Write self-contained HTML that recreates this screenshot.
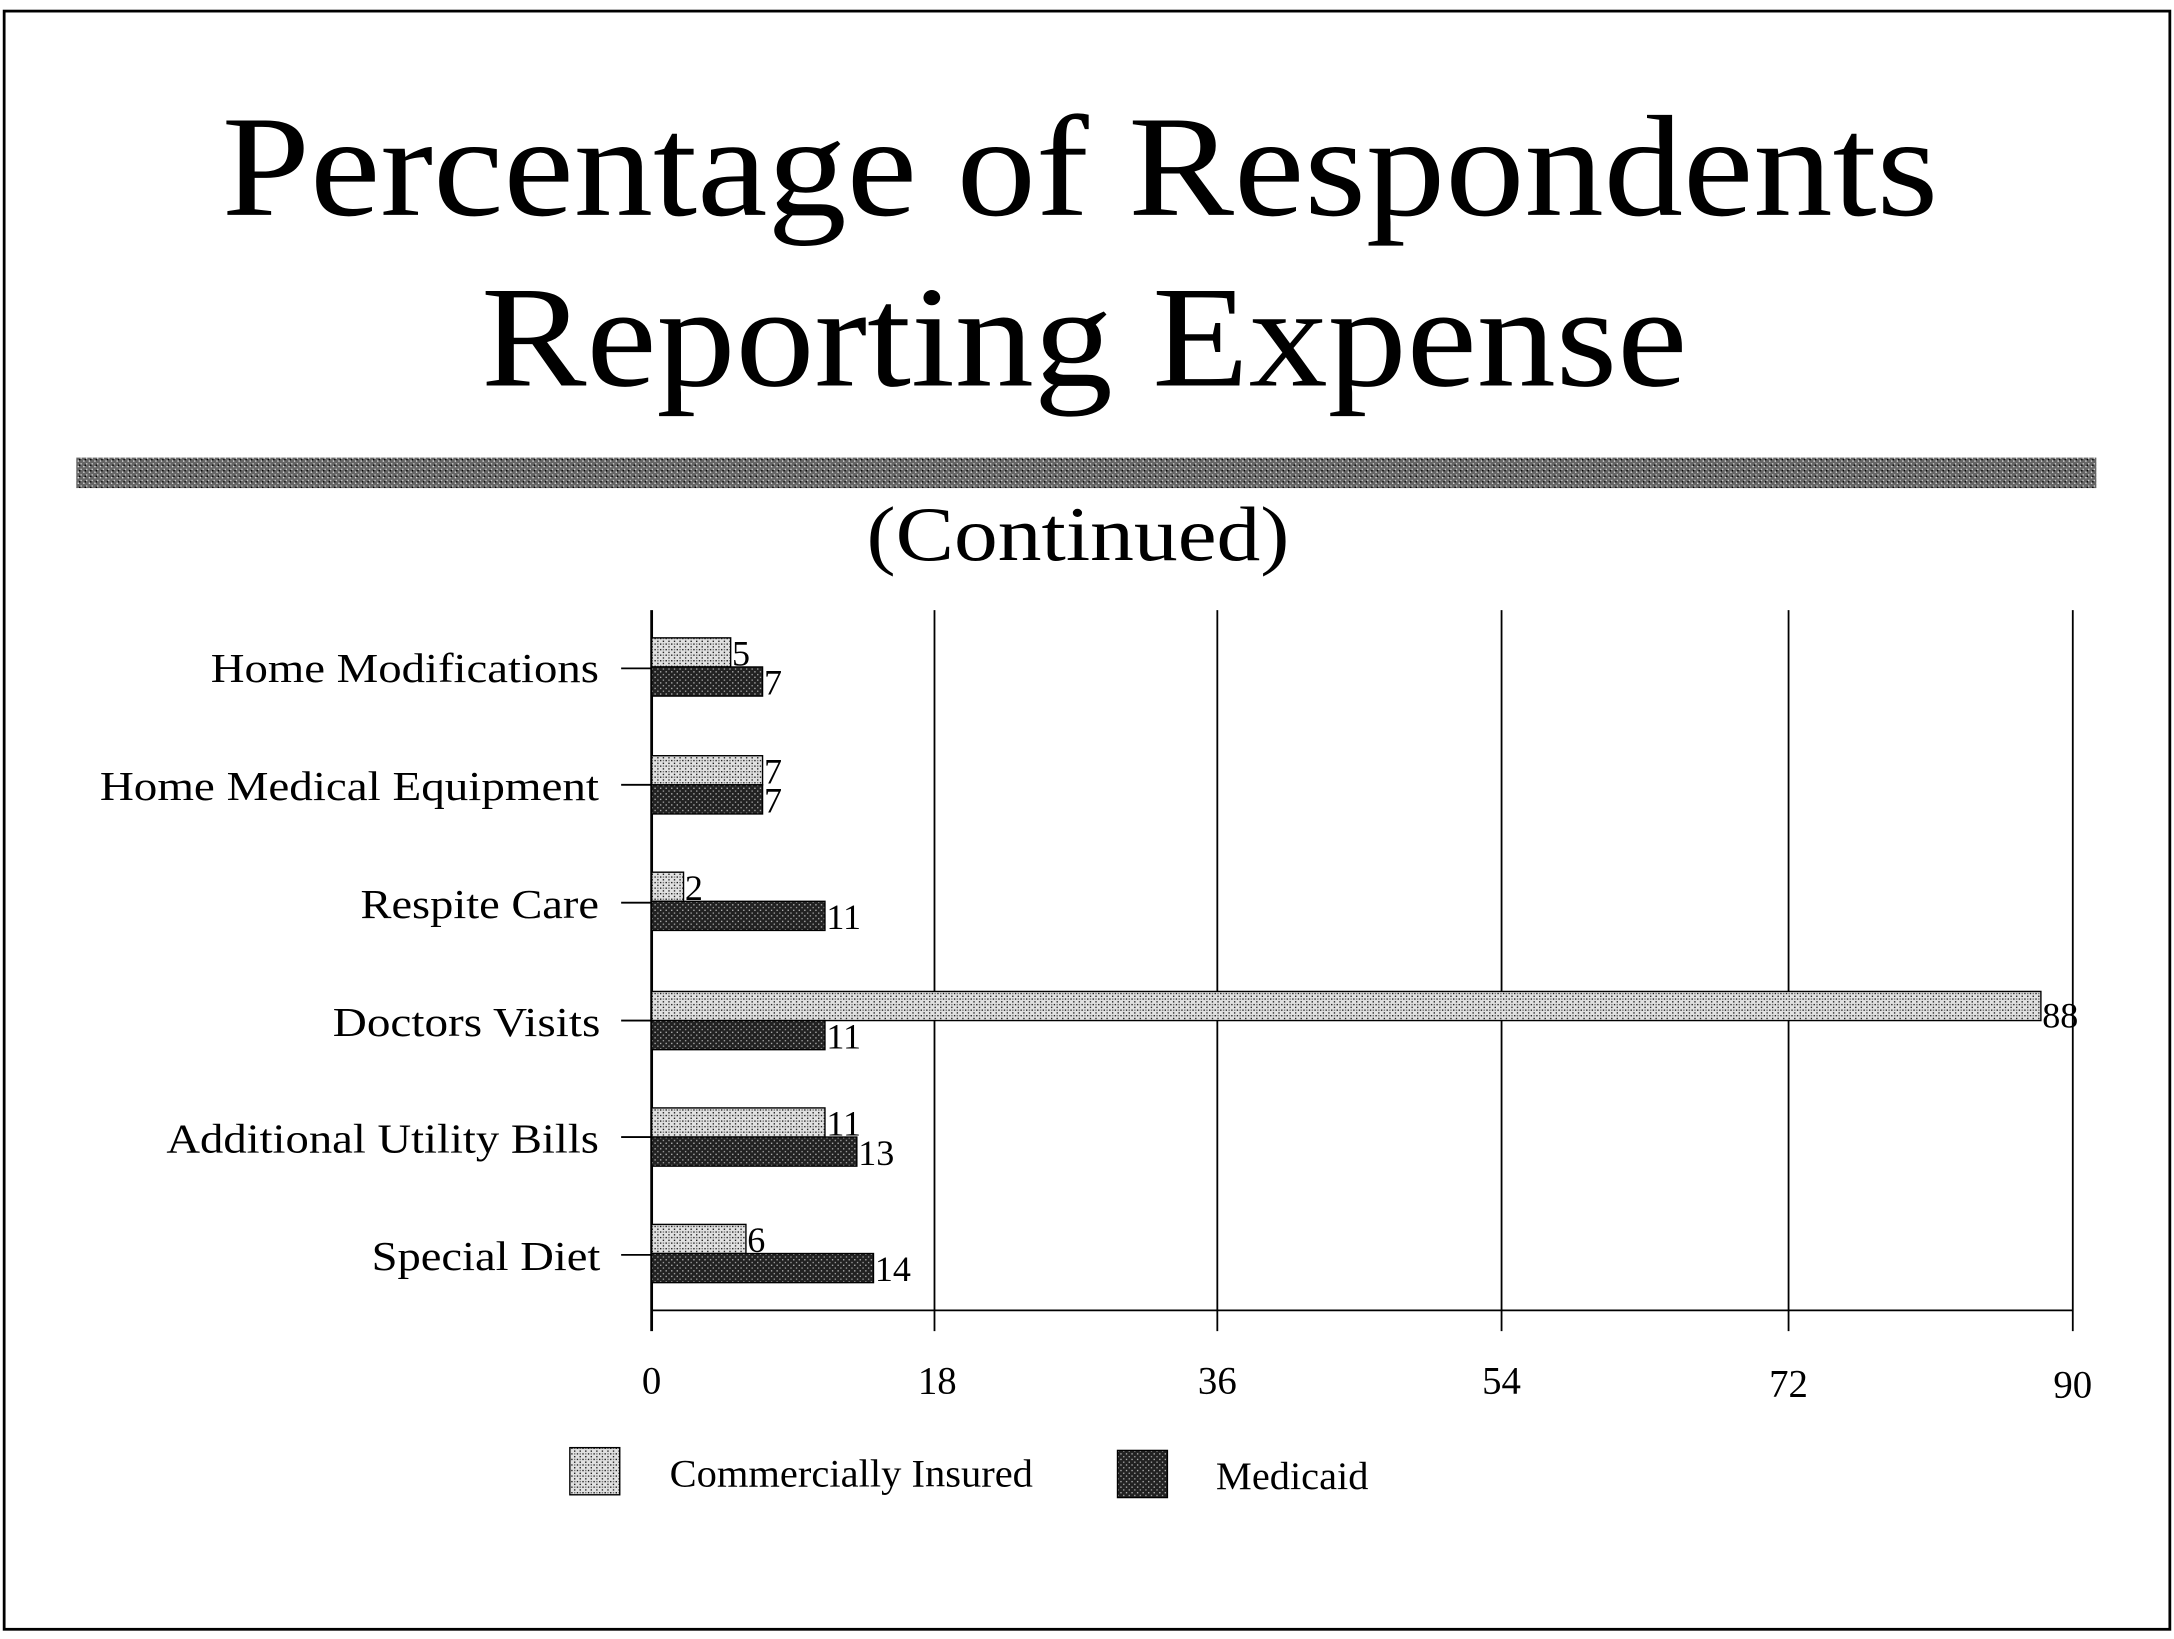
<!DOCTYPE html>
<html><head><style>
html,body{margin:0;padding:0;background:#fff;}
svg{display:block;}
text{font-family:"Liberation Serif",serif;fill:#000;}
</style></head><body>
<svg width="2174" height="1639" viewBox="0 0 1568 1182" preserveAspectRatio="none" xmlns="http://www.w3.org/2000/svg">
<defs>
<pattern id="lt" width="4" height="4" patternUnits="userSpaceOnUse">
<rect width="4" height="4" fill="#e0e0e0"/><rect width="1" height="1" fill="#222"/><rect x="2" y="2" width="1" height="1" fill="#222"/><rect x="2" y="0" width="1" height="1" fill="#777"/>
</pattern>
<pattern id="dk" width="4" height="4" patternUnits="userSpaceOnUse">
<rect width="4" height="4" fill="#222"/><rect width="1" height="1" fill="#aaa"/><rect x="2" y="2" width="1" height="1" fill="#999"/>
</pattern>
<pattern id="bar" width="4" height="4" patternUnits="userSpaceOnUse">
<rect width="4" height="4" fill="#666"/><rect width="1" height="1" fill="#ddd"/><rect x="2" y="2" width="1" height="1" fill="#ccc"/><rect x="1" y="3" width="1" height="1" fill="#000"/>
</pattern>
</defs>
<rect x="3" y="8" width="1562" height="1167" fill="none" stroke="#000" stroke-width="2"/>
<text x="160" y="155" font-size="104" textLength="1238" lengthAdjust="spacingAndGlyphs">Percentage of Respondents</text>
<text x="347" y="278" font-size="104" textLength="870" lengthAdjust="spacingAndGlyphs">Reporting Expense</text>
<rect x="55" y="330" width="1457" height="22" fill="url(#bar)"/>
<text x="625" y="404" font-size="56" textLength="305" lengthAdjust="spacingAndGlyphs">(Continued)</text>
<g stroke="#000" stroke-width="1.3">
<line x1="674" y1="440" x2="674" y2="960"/>
<line x1="878" y1="440" x2="878" y2="960"/>
<line x1="1083" y1="440" x2="1083" y2="960"/>
<line x1="1290" y1="440" x2="1290" y2="960"/>
<line x1="1495" y1="440" x2="1495" y2="960"/>
<line x1="470" y1="440" x2="470" y2="960" stroke-width="2"/>
<line x1="470" y1="945" x2="1495" y2="945"/>
<line x1="448" y1="482" x2="470" y2="482"/>
<line x1="448" y1="566" x2="470" y2="566"/>
<line x1="448" y1="651" x2="470" y2="651"/>
<line x1="448" y1="736" x2="470" y2="736"/>
<line x1="448" y1="820" x2="470" y2="820"/>
<line x1="448" y1="905" x2="470" y2="905"/>
</g>
<g font-size="30" lengthAdjust="spacingAndGlyphs">
<text x="152" y="492" textLength="280" lengthAdjust="spacingAndGlyphs">Home Modifications</text>
<text x="72" y="577" textLength="360" lengthAdjust="spacingAndGlyphs">Home Medical Equipment</text>
<text x="260" y="662" textLength="172" lengthAdjust="spacingAndGlyphs">Respite Care</text>
<text x="240" y="747" textLength="193" lengthAdjust="spacingAndGlyphs">Doctors Visits</text>
<text x="120" y="831" textLength="312" lengthAdjust="spacingAndGlyphs">Additional Utility Bills</text>
<text x="268" y="916" textLength="165" lengthAdjust="spacingAndGlyphs">Special Diet</text>
</g>
<g stroke="#000" stroke-width="1">
<rect x="470" y="460" width="57" height="21" fill="url(#lt)"/>
<rect x="470" y="481" width="80" height="21" fill="url(#dk)"/>
<rect x="470" y="545" width="80" height="21" fill="url(#lt)"/>
<rect x="470" y="566" width="80" height="21" fill="url(#dk)"/>
<rect x="470" y="629" width="23" height="21" fill="url(#lt)"/>
<rect x="470" y="650" width="125" height="21" fill="url(#dk)"/>
<rect x="470" y="715" width="1002" height="21" fill="url(#lt)"/>
<rect x="470" y="736" width="125" height="21" fill="url(#dk)"/>
<rect x="470" y="799" width="125" height="21" fill="url(#lt)"/>
<rect x="470" y="820" width="148" height="21" fill="url(#dk)"/>
<rect x="470" y="883" width="68" height="21" fill="url(#lt)"/>
<rect x="470" y="904" width="160" height="21" fill="url(#dk)"/>
</g>
<g font-size="26">
<text x="528" y="480">5</text><text x="551" y="501">7</text>
<text x="551" y="565">7</text><text x="551" y="586">7</text>
<text x="494" y="649">2</text><text x="596" y="670">11</text>
<text x="1473" y="741">88</text><text x="596" y="756">11</text>
<text x="596" y="819">11</text><text x="619" y="840">13</text>
<text x="539" y="903">6</text><text x="631" y="924">14</text>
</g>
<g font-size="28" text-anchor="middle">
<text x="470" y="1005">0</text><text x="676" y="1005">18</text><text x="878" y="1005">36</text>
<text x="1083" y="1005">54</text><text x="1290" y="1007">72</text><text x="1495" y="1008">90</text>
</g>
<rect x="411" y="1044" width="36" height="34" fill="url(#lt)" stroke="#000"/>
<text x="483" y="1072" font-size="28" textLength="262" lengthAdjust="spacingAndGlyphs">Commercially Insured</text>
<rect x="806" y="1046" width="36" height="34" fill="url(#dk)" stroke="#000"/>
<text x="877" y="1074" font-size="28" textLength="110" lengthAdjust="spacingAndGlyphs">Medicaid</text>
</svg>
</body></html>
